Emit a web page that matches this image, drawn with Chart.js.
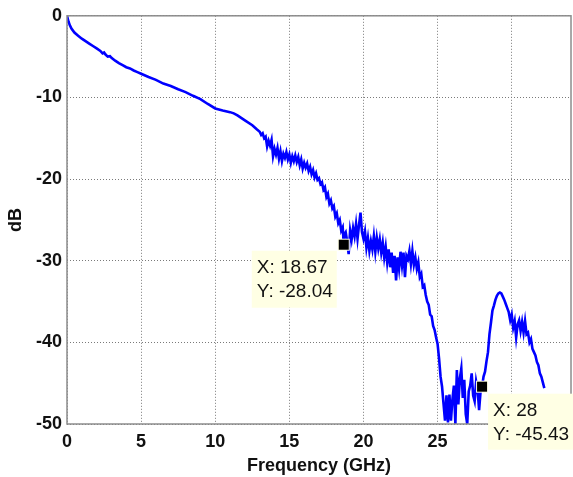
<!DOCTYPE html>
<html>
<head>
<meta charset="utf-8">
<script src="https://cdn.jsdelivr.net/npm/chart.js@4/dist/chart.umd.min.js"></script>
<style>
    html, body { margin: 0; padding: 0; background: #FFFFFF; }
    #wrap { width: 573px; height: 477px; position: relative; }
</style>
</head>
<body>
<div id="wrap"><canvas id="responseChart"></canvas></div>
<script>
const LINE_COLOR = '#0000FF';
const FONT_COLOR = '#111111';
const GRID_COLOR = '#7A7A7A';
const BOX_COLOR = '#8C8C8C';
const FONT_FAMILY = "'Liberation Sans', Arial, sans-serif";

// tick values
const xTicks = [0, 5, 10, 15, 20, 25, 30];
const yTicks = [0, -10, -20, -30, -40, -50];

// trace (GHz, dB)
const freqGHz = [
    0, 0.1, 0.2, 0.3, 0.5, 0.75, 1, 1.25, 1.5, 1.75, 2, 2.25, 2.4, 2.5, 2.6, 2.75, 2.9, 3, 3.25, 3.5,
    3.75, 4, 4.25, 4.5, 4.75, 5, 5.5, 6, 6.5, 7, 7.5, 8, 8.5, 9, 9.5, 10, 10.5, 11, 11.25, 11.5,
    12, 12.5, 12.8,
    13.0, 13.1, 13.2, 13.3, 13.4, 13.5, 13.6, 13.7, 13.8, 13.9, 14.0, 14.1, 14.2, 14.3, 14.4, 14.5, 14.6, 14.7, 14.8, 14.9,
    15.0, 15.1, 15.2, 15.3, 15.4, 15.5, 15.6, 15.7, 15.8, 15.9, 16.0, 16.1, 16.2, 16.3, 16.4, 16.5, 16.6, 16.7, 16.8, 16.9,
    17.0, 17.1, 17.2, 17.3, 17.4, 17.5, 17.6, 17.7, 17.8, 17.9, 18.0, 18.1, 18.2, 18.3, 18.4, 18.5, 18.6, 18.67, 18.7, 18.8, 18.9,
    19.0, 19.1, 19.2, 19.3, 19.4, 19.5, 19.6, 19.7, 19.8, 19.9, 20.0, 20.1, 20.2, 20.3, 20.4, 20.5, 20.6, 20.7, 20.8, 20.9,
    21.0, 21.1, 21.2, 21.3, 21.4, 21.5, 21.6, 21.7, 21.8, 21.9, 22.0, 22.1, 22.2, 22.3, 22.4, 22.5, 22.6, 22.7, 22.8, 22.9,
    23.0, 23.1, 23.2, 23.3, 23.4, 23.5, 23.6, 23.7, 23.8, 23.9, 24.0, 24.1, 24.2, 24.3, 24.4, 24.5, 24.6, 24.7, 24.8, 24.9,
    25.0, 25.1, 25.2, 25.3, 25.4, 25.5, 25.6, 25.7, 25.8, 25.9, 26.0, 26.1, 26.2, 26.3, 26.4, 26.5, 26.6, 26.7, 26.8, 26.9,
    27.0, 27.1, 27.2, 27.3, 27.4, 27.5, 27.6, 27.7, 27.8, 27.9, 28.0, 28.1, 28.2, 28.3, 28.4, 28.5, 28.6, 28.7, 28.8, 28.9,
    29.0, 29.1, 29.2, 29.3, 29.4, 29.5, 29.6, 29.7, 29.8, 29.9, 30.0, 30.1, 30.2, 30.3, 30.4, 30.5, 30.6, 30.7, 30.8, 30.9,
    31.0, 31.1, 31.2, 31.3, 31.4, 31.5, 31.6, 31.7, 31.8, 31.9, 32.0, 32.1, 32.2
];
const magDb = [
    0, -0.7, -1.2, -1.55, -2.05, -2.45, -2.8, -3.1, -3.4, -3.7, -4.0, -4.3, -4.6, -4.5, -4.75, -5.0, -4.95, -5.15, -5.5, -5.8,
    -6.05, -6.3, -6.45, -6.7, -6.9, -7.1, -7.5, -7.85, -8.3, -8.6, -9.0, -9.35, -9.8, -10.2, -10.8, -11.35, -11.6, -11.8, -11.95, -12.2,
    -12.8, -13.4, -13.9,
    -14.2, -14.6, -14.4, -15.0, -14.8, -16.0, -15.3, -15.9, -15.2, -17.2, -16.3, -17.0, -16.2, -17.5, -16.6, -17.8, -16.9, -17.4, -16.7, -17.6,
    -17.0, -18.0, -17.2, -17.8, -17.1, -17.9, -17.3, -18.3, -17.6, -18.7, -18.0, -18.6, -18.1, -19.0, -18.5, -19.4, -18.9, -19.8, -19.3, -20.1,
    -19.9, -20.6, -20.4, -21.3, -21.0, -22.2, -21.8, -23.0, -22.6, -23.6, -23.3, -24.6, -24.2, -25.4, -25.0, -26.3, -25.9, -28.04, -26.8, -26.5, -27.6,
    -29.2, -26.3, -27.4, -26.0, -27.0, -25.5, -27.3, -25.6, -24.1, -26.5, -27.3, -26.4, -28.4, -27.2, -28.8, -27.6, -28.6, -27.0, -28.9, -27.2,
    -28.5, -27.4, -29.0, -27.8, -29.6, -28.3, -30.2, -28.6, -30.8, -29.0, -31.5, -29.4, -32.4, -29.6, -31.0, -28.9, -30.6, -29.0, -32.0, -29.4,
    -29.8, -28.8, -30.4, -28.8, -30.5, -29.6, -31.0, -30.2, -32.0, -31.6, -33.2, -33.0, -34.2, -35.0, -35.4, -36.6, -36.8, -38.0, -38.5, -39.4,
    -40.2, -42.0, -44.2, -45.4, -47.5, -49.6, -46.5, -49.8, -46.4, -49.6, -47.0, -45.3, -50.0, -43.4, -47.6, -44.4, -43.2, -46.8, -44.6, -48.8,
    -50.0, -46.0, -45.3, -43.8, -46.5, -47.2, -44.8, -45.8, -48.3, -46.0, -45.43, -44.2, -43.6, -42.3, -41.2, -39.0, -37.6, -36.1, -35.5, -34.8,
    -34.3, -34.0, -33.9, -34.0, -34.4, -34.8, -35.3, -35.8, -36.3, -37.3, -36.6, -38.2, -37.4, -39.4, -37.8, -37.3, -38.6, -37.5, -38.8, -37.4,
    -39.0, -38.8, -40.0, -39.6, -40.8, -41.2, -41.6, -42.4, -42.8, -43.8, -44.2, -44.9, -45.6
];

// data cursors
const markerFreq = [18.67, 28];
const markerDb = [-28.04, -45.43];

const tickFont = { family: FONT_FAMILY, size: 18, weight: 'bold' };

const dataCursorPlugin = {
    id: 'dataCursors',
    afterDatasetsDraw(chart) {
        const { ctx, chartArea } = chart;
        ctx.save();
        ctx.strokeStyle = BOX_COLOR;
        ctx.lineWidth = 1.5;
        ctx.strokeRect(chartArea.left, chartArea.top, chartArea.right - chartArea.left, chartArea.bottom - chartArea.top);
        ctx.restore();
    },
    afterDraw(chart) {
        const { ctx } = chart;
        const xs = chart.scales.x;
        const ys = chart.scales.y;
        // where each label box sits relative to its cursor
        const boxOffsets = [{ dx: -92, dy: 6, w: 85, h: 57 }, { dx: 6, dy: 7, w: 95, h: 56 }];
        ctx.save();
        markerFreq.forEach((f, i) => {
            const px = xs.getPixelForValue(f);
            const py = ys.getPixelForValue(markerDb[i]);
            const o = boxOffsets[i];
            ctx.fillStyle = '#FFFFE4';
            ctx.fillRect(px + o.dx, py + o.dy, o.w, o.h);
            ctx.fillStyle = FONT_COLOR;
            ctx.font = 'normal 19px ' + FONT_FAMILY;
            ctx.textBaseline = 'middle';
            ctx.textAlign = 'left';
            ctx.fillText('X: ' + f, px + o.dx + 5, py + o.dy + 17);
            ctx.fillText('Y: ' + markerDb[i], px + o.dx + 5, py + o.dy + 41);
            ctx.fillStyle = '#FFFFE4';
            ctx.fillRect(px - 6, py - 6, 12, 12);
            ctx.fillStyle = '#000000';
            ctx.fillRect(px - 5, py - 5, 10, 10);
        });
        ctx.restore();
    }
};

new Chart(document.getElementById('responseChart'), {
    type: 'line',
    data: {
        datasets: [{
            label: 'S21',
            data: freqGHz.map((f, i) => ({ x: f, y: magDb[i] })),
            borderColor: LINE_COLOR,
            borderWidth: 2.6,
            pointRadius: 0,
            tension: 0,
            fill: false
        }]
    },
    options: {
        responsive: true,
        maintainAspectRatio: false,
        animation: false,
        layout: { padding: { top: 14, right: 2, left: 0, bottom: 0 } },
        scales: {
            x: {
                type: 'linear',
                min: 0,
                max: 34,
                afterBuildTicks: scale => { scale.ticks = xTicks.map(v => ({ value: v })); },
                afterFit: scale => { scale.height = 53; },
                grid: { color: GRID_COLOR, drawTicks: false },
                border: { display: false, dash: [1, 2] },
                ticks: { color: FONT_COLOR, font: tickFont, padding: 7, maxRotation: 0 },
                title: { display: true, text: 'Frequency (GHz)', color: FONT_COLOR, font: tickFont, padding: { top: 2, bottom: 0 } }
            },
            y: {
                min: -50,
                max: 0,
                afterBuildTicks: scale => { scale.ticks = yTicks.map(v => ({ value: v })); },
                afterFit: scale => { scale.width = 67; },
                grid: { color: GRID_COLOR, drawTicks: false },
                border: { display: false, dash: [1, 2] },
                ticks: { color: FONT_COLOR, font: tickFont, padding: 5 },
                title: { display: true, text: 'dB', color: FONT_COLOR, font: tickFont, padding: { top: 5, bottom: 0 } }
            }
        },
        plugins: {
            legend: { display: false },
            tooltip: { enabled: false },
            title: { display: false }
        }
    },
    plugins: [dataCursorPlugin]
});
</script>
</body>
</html>
